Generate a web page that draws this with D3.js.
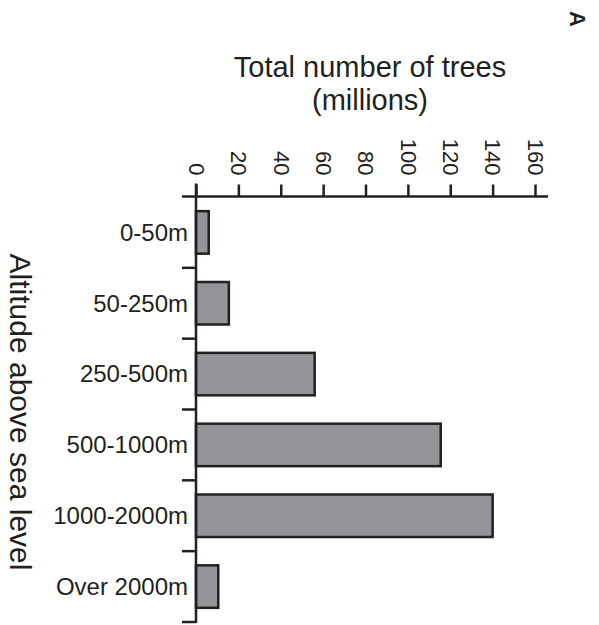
<!DOCTYPE html>
<html>
<head>
<meta charset="utf-8">
<script src="https://cdn.jsdelivr.net/npm/d3@7"></script>
<style>
  html, body { margin: 0; padding: 0; background: #fff; }
  text { font-family: "Liberation Sans", Arial, Helvetica, sans-serif; fill: #231f20; }
</style>
</head>
<body>
<script>
const categories = ["0-50m", "50-250m", "250-500m", "500-1000m", "1000-2000m", "Over 2000m"];
const values = [6, 15.5, 56, 115.5, 140, 10.5];
const xTicks = [0, 20, 40, 60, 80, 100, 120, 140, 160];
const titleLines = ["Total number of trees", "(millions)"];
const yTitle = "Altitude above sea level";
const panelLabel = "A";

const W = 599, H = 625;
const ink = "#231f20";
const svg = d3.select("body").append("svg").attr("width", W).attr("height", H);

const x = d3.scaleLinear().domain([0, 160]).range([196, 535]);
const y = d3.scaleBand().domain(categories).range([197, 622]).paddingInner(0.4).paddingOuter(0.2);
const axisY = 196.5;

// bars
svg.append("g").selectAll("rect").data(categories).join("rect")
  .attr("x", x(0))
  .attr("y", d => y(d))
  .attr("width", (d, i) => x(values[i]) - x(0))
  .attr("height", y.bandwidth())
  .attr("fill", "#939598")
  .attr("stroke", ink)
  .attr("stroke-width", 2.5);

// x axis (top)
const xAxis = svg.append("g").attr("transform", `translate(0,${axisY})`)
  .call(d3.axisTop(x).tickValues(xTicks).tickSize(12).tickSizeOuter(0));
xAxis.select(".domain").remove();
xAxis.selectAll(".tick line").attr("stroke", ink).attr("stroke-width", 2.5);
xAxis.selectAll(".tick text")
  .attr("x", 0).attr("y", 0).attr("dy", "0.35em")
  .attr("transform", "translate(0,-21) rotate(90)")
  .attr("text-anchor", "end")
  .style("font-size", "22px")
  .style("font-family", "'Liberation Sans', Arial, sans-serif")
  .attr("fill", ink);
svg.append("line")
  .attr("x1", 182).attr("x2", 548).attr("y1", axisY).attr("y2", axisY)
  .attr("stroke", ink).attr("stroke-width", 2.5);

// y axis (left), ticks at band boundaries
const step = y.step();
const boundaries = categories.map(d => y(d) - y.paddingInner() * step / 2 + step);
svg.append("line")
  .attr("x1", x(0)).attr("x2", x(0)).attr("y1", axisY - 13).attr("y2", 623)
  .attr("stroke", ink).attr("stroke-width", 2.5);
svg.append("g").selectAll("line").data(boundaries).join("line")
  .attr("x1", 182).attr("x2", x(0)).attr("y1", d => d).attr("y2", d => d)
  .attr("stroke", ink).attr("stroke-width", 2.5);

// category labels
svg.append("g").selectAll("text").data(categories).join("text")
  .attr("x", 188)
  .attr("y", d => y(d) + y.bandwidth() / 2)
  .attr("dy", "0.35em")
  .attr("text-anchor", "end")
  .style("font-size", "24px")
  .text(d => d);

// title
svg.append("g").selectAll("text").data(titleLines).join("text")
  .attr("x", 370)
  .attr("y", (d, i) => 77 + i * 33)
  .attr("text-anchor", "middle")
  .style("font-size", "29px")
  .text(d => d);

// y title
svg.append("text")
  .attr("transform", "translate(20,412) rotate(90)")
  .attr("text-anchor", "middle")
  .attr("dy", "0.35em")
  .style("font-size", "30px")
  .text(yTitle);

// panel label
svg.append("text")
  .attr("transform", "translate(578,19) rotate(90)")
  .attr("text-anchor", "middle")
  .attr("dy", "0.35em")
  .style("font-size", "22px")
  .style("font-weight", "bold")
  .text(panelLabel);
</script>
</body>
</html>
